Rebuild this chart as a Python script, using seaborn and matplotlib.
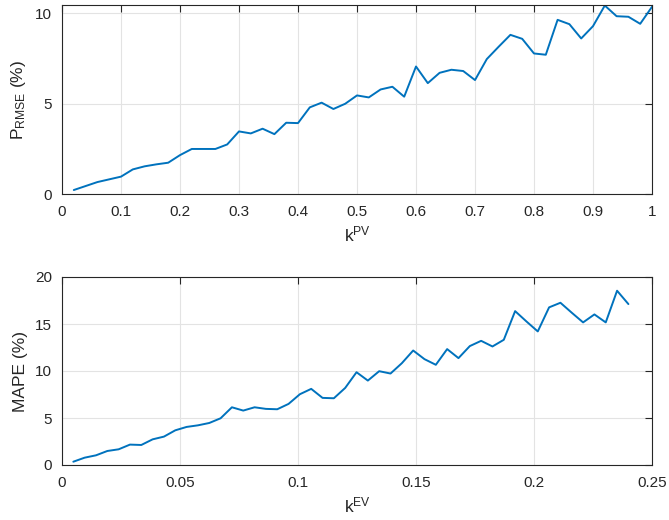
import matplotlib.pyplot as plt
import seaborn as sns
import numpy as np
import pandas as pd

# k values (50 steps each)
k_pv = np.round(np.arange(1, 51) * 0.02, 4)
p_rmse = [0.22, 0.44, 0.66, 0.81, 0.96, 1.36, 1.53, 1.64, 1.73, 2.15,
          2.49, 2.49, 2.49, 2.74, 3.46, 3.35, 3.61, 3.31, 3.94, 3.92,
          4.79, 5.05, 4.70, 4.99, 5.45, 5.34, 5.78, 5.93, 5.38, 7.05,
          6.13, 6.70, 6.87, 6.80, 6.30, 7.46, 8.14, 8.80, 8.58, 7.77,
          7.70, 9.63, 9.39, 8.60, 9.28, 10.42, 9.83, 9.80, 9.41, 10.35]

k_ev = np.round(np.arange(1, 51) * 0.0048, 5)
mape = [0.35, 0.78, 1.03, 1.49, 1.67, 2.17, 2.13, 2.73, 3.02, 3.69,
        4.05, 4.22, 4.47, 4.97, 6.14, 5.79, 6.14, 5.97, 5.93, 6.50,
        7.53, 8.10, 7.14, 7.10, 8.20, 9.87, 8.98, 9.98, 9.73, 10.83,
        12.18, 11.26, 10.66, 12.33, 11.37, 12.65, 13.21, 12.61, 13.32, 16.37,
        15.27, 14.21, 16.77, 17.26, 16.20, 15.17, 16.02, 15.17, 18.54, 17.12]

sns.set_style("whitegrid")
plt.rcParams['font.family'] = ['Liberation Sans', 'DejaVu Sans']
plt.rcParams['mathtext.fontset'] = 'custom'
plt.rcParams['mathtext.rm'] = 'Liberation Sans'
plt.rcParams['mathtext.it'] = 'Liberation Sans'
plt.rcParams['font.size'] = 11

line_col = '#0072BD'
fig = plt.figure(figsize=(6.69, 5.2), dpi=100)
ax1 = fig.add_axes([62/669, 1-194/520, 590/669, 189/520])
ax2 = fig.add_axes([62/669, 1-465/520, 590/669, 188/520])

df1 = pd.DataFrame({'k': k_pv, 'v': p_rmse})
df2 = pd.DataFrame({'k': k_ev, 'v': mape})
sns.lineplot(data=df1, x='k', y='v', ax=ax1, color=line_col, linewidth=1.4)
sns.lineplot(data=df2, x='k', y='v', ax=ax2, color=line_col, linewidth=1.4)

ax1.set_xlim(0, 1)
ax1.set_ylim(0, 10.45)
ax1.set_xticks(np.arange(0, 1.01, 0.1))
ax1.set_xticklabels(['0', '0.1', '0.2', '0.3', '0.4', '0.5', '0.6', '0.7', '0.8', '0.9', '1'])
ax1.set_yticks([0, 5, 10])
ax1.set_xlabel(r'k$^{\rm PV}$', fontsize=12.5, labelpad=4)
ax1.set_ylabel(r'P$_{\rm RMSE}$ (%)', fontsize=12.5, labelpad=5)

ax2.set_xlim(0, 0.25)
ax2.set_ylim(0, 20)
ax2.set_xticks([0, 0.05, 0.1, 0.15, 0.2, 0.25])
ax2.set_xticklabels(['0', '0.05', '0.1', '0.15', '0.2', '0.25'])
ax2.set_yticks([0, 5, 10, 15, 20])
ax2.set_xlabel(r'k$^{\rm EV}$', fontsize=12.5, labelpad=4)
ax2.set_ylabel('MAPE (%)', fontsize=12.5, labelpad=5)

for ax in (ax1, ax2):
    ax.grid(True, color='#e3e3e3', linewidth=0.8)
    for s in ax.spines.values():
        s.set_visible(True)
        s.set_color('#262626')
        s.set_linewidth(0.8)
    ax.tick_params(direction='in', length=5, width=0.8, colors='#262626',
                   top=True, right=True, labelsize=11, labelcolor='#262626')
    ax.tick_params(axis='x', pad=8)
    ax.tick_params(axis='y', pad=7)
    ax.set_axisbelow(True)

fig.savefig('out.png', dpi=100)
